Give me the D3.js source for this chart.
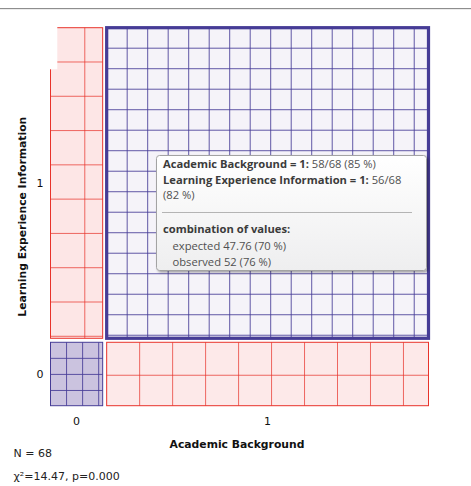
<!DOCTYPE html>
<html>
<head>
<meta charset="utf-8">
<script src="https://cdn.jsdelivr.net/npm/d3@7/dist/d3.min.js"></script>
<style>
  html, body { margin: 0; padding: 0; background: #fff; }
  svg { display: block; font-family: "DejaVu Sans", sans-serif; }
</style>
</head>
<body>
<svg id="chart" width="471" height="486"></svg>
<script>
// Sieve diagram: Academic Background x Learning Experience Information
const xName = "Academic Background";
const yName = "Learning Experience Information";
const xValues = ["0", "1"];
const yValues = ["0", "1"];
// observed counts, observed[yIndex][xIndex]
const observed = [
  [6, 6],
  [4, 52]
];
const hoveredCell = [1, 1]; // [xIndex, yIndex] under the mouse
const pValueText = "0.000";

const bluePen = "#463c96";
const redPen = "#e8332b";
const unit = 1.078; // screen px per plot unit of the original widget

const svg = d3.select("#chart");

// totals and chi-square statistics
const N = d3.sum(observed.flat());
const colTotals = xValues.map((_, i) => d3.sum(observed, r => r[i]));
const rowTotals = observed.map(r => d3.sum(r));
const expected = observed.map((r, yi) => r.map((_, xi) => rowTotals[yi] * colTotals[xi] / N));
const residual = observed.map((r, yi) => r.map((o, xi) => (o - expected[yi][xi]) / Math.sqrt(expected[yi][xi])));
const chi2 = d3.sum(residual.flat(), d => d * d);

const x = d3.scaleLinear().domain([0, N]).range([48.5, 430.5]);
const y = d3.scaleLinear().domain([0, N]).range([25.7, 407.7]);

const blueFill = d3.interpolateRgb("#ffffff", "#2f0f7f");
const redFill = d3.interpolateRgb("#ffffff", "#ee2727");

// top separator of the widget
svg.append("line").attr("x1", 0).attr("x2", 471).attr("y1", 8.5).attr("y2", 8.5)
  .attr("stroke", "#8e8e8e").attr("stroke-width", 1);
svg.append("line").attr("x1", 0).attr("x2", 471).attr("y1", 9.5).attr("y2", 9.5)
  .attr("stroke", "#ececec").attr("stroke-width", 1);

// build cells: columns left to right, rows top (last value) to bottom
const cells = [];
let cx = 0;
xValues.forEach((xv, xi) => {
  let cy = 0;
  for (let yi = yValues.length - 1; yi >= 0; yi--) {
    cells.push({
      xi, yi,
      x0: cx, x1: cx + colTotals[xi],
      y0: cy, y1: cy + rowTotals[yi],
      obs: observed[yi][xi],
      exp: expected[yi][xi],
      p: residual[yi][xi]
    });
    cy += rowTotals[yi];
  }
  cx += colTotals[xi];
});

const gCells = svg.append("g");
cells.forEach(c => {
  const rx = x(c.x0) + 2, ry = y(c.y0) + 2;
  const rw = x(c.x1) - x(c.x0) - 4, rh = y(c.y1) - y(c.y0) - 4;
  const pen = c.p >= 0 ? bluePen : redPen;
  const fill = c.p >= 0 ? blueFill(20 * c.p / 255) : redFill(-20 * c.p / 255);
  const hovered = c.xi === hoveredCell[0] && c.yi === hoveredCell[1];
  const g = gCells.append("g");
  g.append("rect")
    .attr("x", rx).attr("y", ry).attr("width", rw).attr("height", rh)
    .attr("fill", fill)
    .attr("stroke", pen)
    .attr("stroke-width", hovered ? 3 * unit : 1);
  // hatch spacing follows the Pearson residual
  const pp = Math.max(-10, Math.min(10, c.p));
  const dist = unit * (pp > 0 ? 20 - 1.6 * pp : 20 - 8 * pp);
  const vx = d3.range(dist, rw, dist);
  const hy = d3.range(dist, rh, dist);
  const op = c.p >= 0 ? 0.85 : 0.72;
  g.selectAll("line.v").data(vx).join("line").attr("class", "v")
    .attr("x1", d => rx + d).attr("x2", d => rx + d)
    .attr("y1", ry).attr("y2", ry + rh)
    .attr("stroke", pen).attr("stroke-opacity", op).attr("stroke-width", 1);
  g.selectAll("line.h").data(hy).join("line").attr("class", "h")
    .attr("x1", rx).attr("x2", rx + rw)
    .attr("y1", d => ry + d).attr("y2", d => ry + d)
    .attr("stroke", pen).attr("stroke-opacity", op).attr("stroke-width", 1);
});

// leftover repaint patch at the top-left corner of the widget
svg.append("rect").attr("x", 48).attr("y", 24).attr("width", 9.3).attr("height", 45.3)
  .attr("fill", "#fff");

// value labels
let offY = 0;
for (let yi = yValues.length - 1; yi >= 0; yi--) {
  svg.append("text")
    .attr("x", 40).attr("y", y(offY + rowTotals[yi] / 2))
    .attr("dy", "0.36em").attr("text-anchor", "middle")
    .attr("font-size", 11).attr("fill", "#111")
    .text(yValues[yi]);
  offY += rowTotals[yi];
}
let offX = 0;
xValues.forEach((xv, xi) => {
  svg.append("text")
    .attr("x", x(offX + colTotals[xi] / 2)).attr("y", 425)
    .attr("text-anchor", "middle")
    .attr("font-size", 11).attr("fill", "#111")
    .text(xv);
  offX += colTotals[xi];
});

// attribute titles
svg.append("text")
  .attr("x", 237).attr("y", 447.5)
  .attr("text-anchor", "middle").attr("font-weight", "bold")
  .attr("font-size", 10.8).attr("fill", "#111")
  .text(xName);
svg.append("text")
  .attr("transform", "translate(25.5,216.7) rotate(-90)")
  .attr("text-anchor", "middle").attr("font-weight", "bold")
  .attr("font-size", 10.8).attr("fill", "#111")
  .text(yName);

// statistics
svg.append("text").attr("x", 13.5).attr("y", 457)
  .attr("font-size", 11).attr("fill", "#222")
  .text(`N = ${N}`);
svg.append("text").attr("x", 13.5).attr("y", 479.5)
  .attr("font-size", 11).attr("fill", "#222")
  .text(`\u03c7\u00b2=${chi2.toFixed(2)}, p=${pValueText}`);

// tooltip for the hovered cell
const hc = cells.find(c => c.xi === hoveredCell[0] && c.yi === hoveredCell[1]);
const pct = v => Math.round(100 * v / N);
const defs = svg.append("defs");
const grad = defs.append("linearGradient").attr("id", "tipGrad")
  .attr("x1", 0).attr("y1", 0).attr("x2", 0).attr("y2", 1);
grad.append("stop").attr("offset", "0%").attr("stop-color", "#ffffff");
grad.append("stop").attr("offset", "100%").attr("stop-color", "#eeeeef");
defs.append("filter").attr("id", "tipShadow")
  .attr("x", "-5%").attr("y", "-5%").attr("width", "115%").attr("height", "115%")
  .append("feDropShadow").attr("dx", 1.5).attr("dy", 1.5).attr("stdDeviation", 1.2)
  .attr("flood-color", "#000").attr("flood-opacity", 0.35);

const tip = svg.append("g").attr("font-family", "'Open Sans', 'Noto Sans', sans-serif").attr("font-size", 11.2);
tip.append("rect")
  .attr("x", 156.5).attr("y", 155.5).attr("width", 270).attr("height", 115)
  .attr("rx", 3).attr("ry", 3)
  .attr("fill", "url(#tipGrad)").attr("stroke", "#a3a3a3")
  .attr("filter", "url(#tipShadow)");

function tipLine(px, py, parts) {
  const t = tip.append("text").attr("x", px).attr("y", py);
  parts.forEach(([s, bold]) => {
    t.append("tspan")
      .attr("font-weight", bold ? "bold" : "normal")
      .attr("fill", bold ? "#3b3b3b" : "#505050")
      .text(s);
  });
}
const xCount = colTotals[hc.xi], yCount = rowTotals[hc.yi];
tipLine(163, 168, [[`${xName} = ${xValues[hc.xi]}:`, true], [` ${xCount}/${N} (${pct(xCount)} %)`, false]]);
tipLine(163, 183.5, [[`${yName} = ${yValues[hc.yi]}:`, true], [` ${yCount}/${N}`, false]]);
tipLine(163, 199, [[`(${pct(yCount)} %)`, false]]);
tip.append("line").attr("x1", 162).attr("x2", 412).attr("y1", 212.5).attr("y2", 212.5)
  .attr("stroke", "#b4b4b4").attr("stroke-width", 1);
tipLine(163, 232.5, [["combination of values:", true]]);
tipLine(172.5, 250, [[`expected ${hc.exp.toFixed(2)} (${pct(hc.exp)} %)`, false]]);
tipLine(172.5, 265.5, [[`observed ${hc.obs} (${pct(hc.obs)} %)`, false]]);
</script>
</body>
</html>
